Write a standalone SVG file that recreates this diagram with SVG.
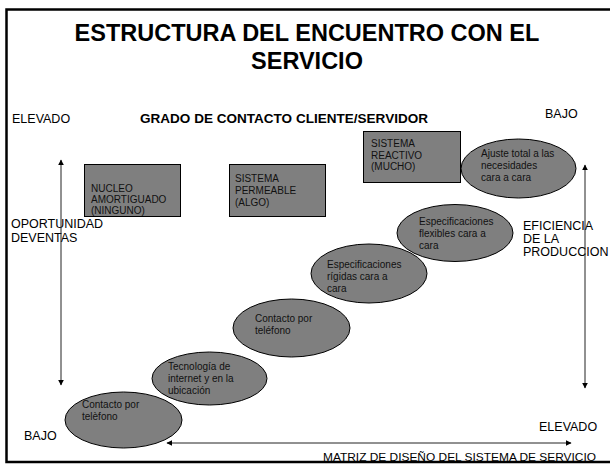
<svg xmlns="http://www.w3.org/2000/svg" width="610" height="464" viewBox="0 0 610 464">
<style>
text{font-family:"Liberation Sans",Arial,sans-serif;fill:#000}
.title{font-size:23.5px;font-weight:bold;text-anchor:middle}
.lbl{font-size:12.5px}
.sm{font-size:10px;fill:#111}
.box{fill:#7f7f7f;stroke:#000;stroke-width:1}
.ell{fill:#7f7f7f;stroke:#000;stroke-width:1}
.ax{stroke:#222;stroke-width:1;fill:none;marker-start:url(#ah);marker-end:url(#ah)}
</style>
<defs>
<marker id="ah" viewBox="0 0 10 10" refX="9" refY="5" markerWidth="6" markerHeight="6" orient="auto-start-reverse" markerUnits="userSpaceOnUse">
<path d="M0,0 L10,5 L0,10 z" fill="#000"/>
</marker>
</defs>
<rect x="0" y="0" width="610" height="464" fill="#fff"/>
<rect x="6.5" y="9.5" width="620" height="452.5" fill="none" stroke="#000" stroke-width="2.5"/>

<g id="title">
<text class="title" x="307" y="41">ESTRUCTURA DEL ENCUENTRO CON EL</text>
<text class="title" x="307" y="69">SERVICIO</text>
</g>

<g id="labels">
<text class="lbl" x="12" y="122.5">ELEVADO</text>
<text x="140" y="122.5" style="font-size:12px;font-weight:bold" textLength="288" lengthAdjust="spacingAndGlyphs">GRADO DE CONTACTO CLIENTE/SERVIDOR</text>
<text class="lbl" x="545" y="117.5">BAJO</text>
<text class="lbl" x="11" y="228">OPORTUNIDAD</text>
<text class="lbl" x="11" y="242">DEVENTAS</text>
<text class="lbl" x="523" y="230">EFICIENCIA</text>
<text class="lbl" x="523" y="243">DE LA</text>
<text class="lbl" x="523" y="256">PRODUCCION</text>
<text class="lbl" x="24" y="440">BAJO</text>
<text class="lbl" x="539" y="431">ELEVADO</text>
<text x="323" y="461" style="font-size:11.5px" textLength="273" lengthAdjust="spacingAndGlyphs">MATRIZ DE DISEÑO DEL SISTEMA DE SERVICIO</text>
</g>

<g id="connectors">
<line class="ax" x1="61" y1="160" x2="61" y2="385"/>
<line class="ax" x1="585" y1="165" x2="585" y2="388"/>
<line class="ax" x1="167" y1="443" x2="571" y2="443"/>
</g>

<g id="nucleo">
<rect class="box" x="84.5" y="164.5" width="96" height="52"/>
<text class="sm" x="91" y="192">NUCLEO</text>
<text class="sm" x="91" y="203">AMORTIGUADO</text>
<text class="sm" x="91" y="214">(NINGUNO)</text>
</g>

<g id="permeable">
<rect class="box" x="229.5" y="164.5" width="96" height="52"/>
<text class="sm" x="235" y="182">SISTEMA</text>
<text class="sm" x="235" y="194">PERMEABLE</text>
<text class="sm" x="235" y="206">(ALGO)</text>
</g>

<g id="reactivo">
<rect class="box" x="363.5" y="131.5" width="97" height="51"/>
<text class="sm" x="371" y="147">SISTEMA</text>
<text class="sm" x="371" y="158.5">REACTIVO</text>
<text class="sm" x="371" y="170">(MUCHO)</text>
</g>

<g id="ajuste">
<ellipse class="ell" cx="518.5" cy="168.5" rx="57.5" ry="29.5"/>
<text class="sm" x="481" y="157">Ajuste total a las</text>
<text class="sm" x="481" y="169">necesidades</text>
<text class="sm" x="481" y="181">cara a cara</text>
</g>

<g id="flexibles">
<ellipse class="ell" cx="455" cy="233" rx="58" ry="28.5"/>
<text class="sm" x="419" y="225">Especificaciones</text>
<text class="sm" x="419" y="237">flexibles cara a</text>
<text class="sm" x="419" y="249">cara</text>
</g>

<g id="rigidas">
<ellipse class="ell" cx="369" cy="273.5" rx="58" ry="29.5"/>
<text class="sm" x="327" y="268">Especificaciones</text>
<text class="sm" x="327" y="280">rígidas cara a</text>
<text class="sm" x="327" y="292">cara</text>
</g>

<g id="telefono2">
<ellipse class="ell" cx="291.5" cy="328" rx="58.5" ry="29"/>
<text class="sm" x="255" y="322">Contacto por</text>
<text class="sm" x="255" y="334">teléfono</text>
</g>

<g id="internet">
<ellipse class="ell" cx="209.5" cy="378.5" rx="57.5" ry="26.5"/>
<text class="sm" x="168" y="370">Tecnología de</text>
<text class="sm" x="168" y="382">internet y en la</text>
<text class="sm" x="168" y="394">ubicación</text>
</g>

<g id="telefono1">
<ellipse class="ell" cx="123.5" cy="420" rx="58.5" ry="28"/>
<text class="sm" x="82" y="408">Contacto por</text>
<text class="sm" x="82" y="420">telèfono</text>
</g>
</svg>
